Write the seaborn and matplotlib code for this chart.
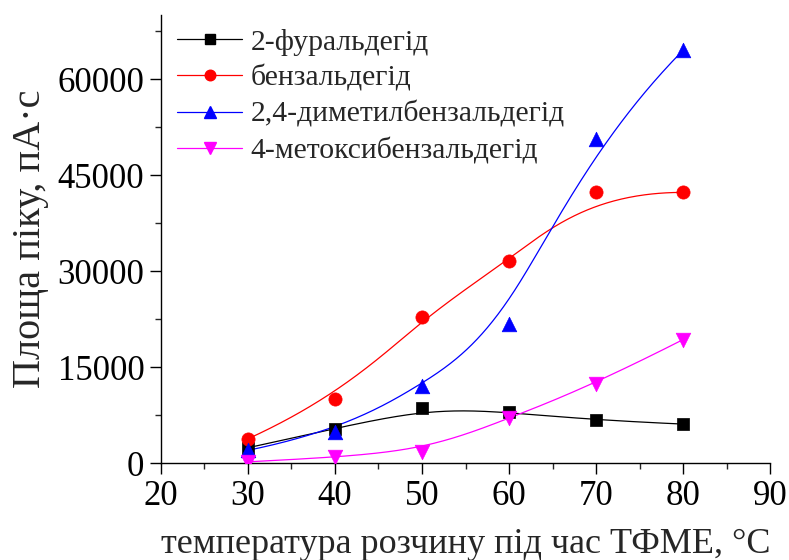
import numpy as np
import matplotlib
matplotlib.use("Agg")
import matplotlib.pyplot as plt
from matplotlib.lines import Line2D
from matplotlib.ticker import MultipleLocator
import seaborn as sns

# Extraction temperature, °C
temperature = [30, 40, 50, 60, 70, 80]

# Peak areas, pA·s
furfural = [2400, 5400, 8600, 8000, 6700, 6100]
benzaldehyde = [3800, 10000, 22800, 31600, 42300, 42300]
dimethylbenzaldehyde = [2000, 4800, 12000, 21800, 50700, 64500]
methoxybenzaldehyde = [200, 900, 1800, 7000, 12400, 19300]

series_labels = ["2-фуральдегід", "бензальдегід",
                 "2,4-диметилбензальдегід", "4-метоксибензальдегід"]
series_values = [furfural, benzaldehyde, dimethylbenzaldehyde, methoxybenzaldehyde]
series_colors = ["#000000", "#ff0000", "#0000ff", "#ff00ff"]
series_markers = ["s", "o", "^", "v"]
series_msize = [9, 9.5, 10.5, 10.5]

x_label = "температура розчину під час ТФМЕ, °C"
y_label = "Площа піку, пА·с"


def clamped_bspline(xc, yc, degree=3, samples=400):
    """Cubic B-spline using the data points as control points (clamped ends)."""
    ctrl = np.column_stack([xc, yc]).astype(float)
    m = len(ctrl)
    inner = np.linspace(0.0, 1.0, m - degree + 1)
    knots = np.concatenate([np.zeros(degree), inner, np.ones(degree)])
    ts = np.linspace(0.0, 1.0, samples)
    out = []
    for t in ts:
        if t >= 1.0:
            out.append(ctrl[-1])
            continue
        k = np.searchsorted(knots, t, side="right") - 1
        d = [ctrl[j + k - degree].copy() for j in range(degree + 1)]
        for r in range(1, degree + 1):
            for j in range(degree, r - 1, -1):
                i = j + k - degree
                a = (t - knots[i]) / (knots[i + 1 + degree - r] - knots[i])
                d[j] = (1.0 - a) * d[j - 1] + a * d[j]
        out.append(d[degree])
    out = np.array(out)
    return out[:, 0], out[:, 1]


sns.set_theme(style="ticks")
plt.rcParams["font.family"] = ["Liberation Serif", "DejaVu Serif"]
plt.rcParams["mathtext.fontset"] = "stix"

fig = plt.figure(figsize=(7.89, 5.60), dpi=100)
ax = fig.add_axes([0.204, 0.173, 0.772, 0.800])

for vals, col, mk, ms in zip(series_values, series_colors, series_markers, series_msize):
    cx, cy = clamped_bspline(temperature, vals)
    sns.lineplot(x=cx, y=cy, color=col, linewidth=0.9, sort=False,
                 estimator=None, ax=ax, legend=False)
    sns.scatterplot(x=temperature, y=vals, marker=mk, color=col,
                    edgecolor=col, s=ms ** 2, linewidth=0.5, ax=ax,
                    legend=False, zorder=3)

ax.set_xlim(20, 90)
ax.set_ylim(0, 70000)
ax.xaxis.set_major_locator(MultipleLocator(10))
ax.xaxis.set_minor_locator(MultipleLocator(5))
ax.yaxis.set_major_locator(MultipleLocator(15000))
ax.yaxis.set_minor_locator(MultipleLocator(7500))
ax.tick_params(which="major", direction="out", length=8, width=1.0,
               labelsize=25, colors="black", pad=4)
ax.tick_params(which="minor", direction="out", length=4.5, width=1.0)
for side in ("top", "right"):
    ax.spines[side].set_visible(False)
for side in ("left", "bottom"):
    ax.spines[side].set_linewidth(1.0)
    ax.spines[side].set_color("black")

ax.set_xlabel(x_label, fontsize=26, labelpad=11)
ax.set_ylabel(y_label, fontsize=29, labelpad=6)

handles = [Line2D([], [], color=c, marker=m, markersize=ms * 0.8, linewidth=0.9,
                  markeredgecolor=c)
           for c, m, ms in zip(series_colors, series_markers, series_msize)]
ax.legend(handles, series_labels, loc="upper left", frameon=False,
          fontsize=21.3, handlelength=2.2, handletextpad=0.27,
          labelspacing=0.31, borderaxespad=0.0, borderpad=0.0,
          bbox_to_anchor=(0.027, 0.970))

fig.savefig("out.png", dpi=100)
